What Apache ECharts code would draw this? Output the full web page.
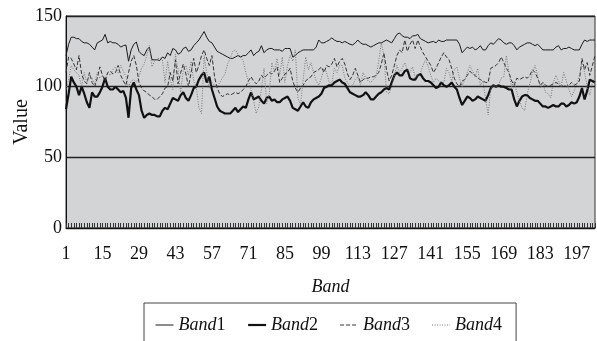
<!DOCTYPE html>
<html>
<head>
<meta charset="utf-8">
<script src="https://cdn.jsdelivr.net/npm/echarts@6/dist/echarts.min.js"></script>
<style>
  html, body { margin: 0; padding: 0; background: #fff; }
  #chart { width: 597px; height: 341px; }
</style>
</head>
<body>
<div id="chart"></div>
<script>
// band numbers 1..204
const bands = []
for (let b = 1; b <= 204; b++) bands.push(String(b))

const band1 = [
  122,130,135,135,134,134,132,131,131,130,128,126,131,132,133,137,131,132,131,131,
  130,128,129,129.5,118,126,130,131.6,125,123,122,126,128,119,119,119,118.5,121,120,124,
  122,127,126,123,124,127,128,125,126,129,131,133,136,139,135,132,131,128,125,124,
  123,122,121,120,120,121,122,121,122,122,124,126,122,124,125,129,124,126,127,127,
  126,126,126,125,127,127,127,121,122,124,125,126,126,126,126,126,128,133,131,131,
  132,133,134.5,133,132,132,131,132,131,130,129.5,131,133,131,130,130,129,128,129,130,
  131,131,132,133,132,131,134,137,138,136,135,135,134,136,136,137,134,133,132,131,
  131.6,132,131,133,132,132,133,133,133,133,133,130,124,126,128,127,128,126,127,129,
  126,126,129,131,130,132,134,133,131,130,131,131,129,126,128,129,130,131,131,130,
  129,130,128,126,126,126,126,126,128,129,126,127,127,128,127,126,126,126,130,133,
  132,133,133,133
]

const band2 = [
  84,95,107,103,100,94,100,95,89,85,96,93,93,96,100,106,100,98,98,100,
  98,96,97,92,78,99,103,98,94,83,78,80,81,80,80,79,79,83,85,84,
  88,92,91,90,94,96,92,90,94,99,100,105,108,110,103,107,98,92,86,83,
  82,81,81,81,83,85,82,84,86,85,91,96,91,92,93,90,88,92,93,90,
  91,89,89,91,92,93,90,85,84,83,86,89,86,85,89,91,92,93,95,99,
  100,101,101,103,104,105,103,102,99,96,95,94,93,93,94,96,94,91,91,93,
  95,96,98,99,98,103,108,110,108,108,111,112,106,105,105,108,109,106,104,104,
  103,101,99,100,103,101,100,101,103,100,98,92,87,90,93,92,90,91,93,92,
  91,90,94,99,101,100,101,100,100,99,98,98,91,86,90,93,94,94,92,91,
  90,90,88,86,86,85,86,87,86,86,88,88,86,87,89,88,89,93,99,91,
  97,105,104,103
]

const band3 = [
  110,121,120,116,112,122,109,104,102,110,103,100,106,114,108,104,110,111,109,110,
  115,108,104,101,110,118,122,115,103,99,97,96,94,93,91,91,93,95,99,100,
  110,104,119,102,110,116,109,100,110,120,110,115,122,126,120,115,122,107,99,95,
  93,94,95,94,95,96,95,96,98,100,104,107,104,102,104,108,106,108,110,109,
  111,114,103,106,109,110,113,104,99,96,99,101,104,106,107,110,111,112,114,110,
  115,114,116,120,114,118,120,116,109,105,108,113,108,103,105,106,106,107,107,108,
  110,116,124,112,104,108,115,122,126,124,133,125,130,133,127,133,128,124,121,118,
  115,110,113,117,121,124,121,119,113,106,102,100,104,105,108,111,109,108,106,105,
  104,103,103,113,114,115,117,121,117,113,110,104,101,106,105,106,107,106,108,112,
  110,106,101,103,101,100,101,102,103,102,100,101,100,101,103,101,102,104,120,112,
  117,108,115,122
]

const band4 = [
  98,105,115,112,110,108,100,110,103,108,106,102,110,106,108,106,110,108,112,114,
  110,115,111,107,100,104,105,103,107,113,116,122,129,114,118,120,120,119,103,118,
  105,98,123,112,96,112,115,108,118,104,100,85,81,122,110,99,103,101,100,103,
  106,109,116,120,125,126,123,121,118,110,104,98,90,81,86,98,113,88,95,117,
  110,120,108,121,103,115,122,118,126,92,87,105,121,112,117,110,104,101,106,113,
  110,103,102,113,110,115,115,106,103,100,101,105,107,101,110,106,104,103,105,107,
  118,131,122,96,95,100,108,115,110,113,117,112,110,114,106,108,110,115,119,114,
  108,103,106,104,103,103,113,110,104,112,114,106,100,105,110,115,111,107,113,101,
  104,92,80,99,101,100,101,106,107,122,110,100,104,96,90,85,83,95,102,110,
  115,108,99,103,96,95,92,103,108,104,100,110,104,98,93,97,101,108,117,110,
  100,94,103,103
]

const yTicks = [0, 50, 100, 150]

const serif = '"Liberation Serif", "DejaVu Serif", serif'

// legend text: italic "Band" + upright number
function bandLabel(name) {
  return '{i|Band}{n|' + name.replace('Band', '') + '}'
}

const chart = echarts.init(document.getElementById('chart'))

chart.setOption({
  animation: false,
  backgroundColor: '#fff',
  grid: {
    left: 66, right: 2, top: 16, bottom: 113,
    outerBoundsMode: 'none',
    show: true,
    backgroundColor: '#d3d4d6',
    borderColor: '#333',
    borderWidth: 1
  },
  legend: {
    left: 144,
    top: 303,
    padding: [13, 14, 13, 11],
    borderColor: '#444',
    borderWidth: 1,
    itemWidth: 18,
    itemHeight: 10,
    itemGap: 21.5,
    itemStyle: { opacity: 0 },   // only the line sample, no symbol
    formatter: bandLabel,
    textStyle: {
      color: '#111',
      rich: {
        i: { fontFamily: serif, fontStyle: 'italic', fontSize: 18, color: '#111' },
        n: { fontFamily: serif, fontSize: 18, color: '#111' }
      }
    },
    data: [
      { name: 'Band1', lineStyle: { width: 1 } },
      { name: 'Band2', lineStyle: { width: 2.2 } },
      { name: 'Band3', lineStyle: { width: 1 } },
      { name: 'Band4', lineStyle: { width: 1 } }
    ]
  },
  xAxis: {
    type: 'category',
    data: bands,
    boundaryGap: false,
    name: 'Band',
    nameLocation: 'middle',
    nameGap: 50,
    nameMoveOverlap: false,
    nameTextStyle: { fontFamily: serif, fontStyle: 'italic', fontSize: 18, color: '#111' },
    axisLine: { lineStyle: { color: '#111', width: 1 } },
    axisTick: { interval: 0, inside: true, length: 5, lineStyle: { color: '#333' } },
    axisLabel: { interval: 13, margin: 17, fontFamily: serif, fontSize: 18, color: '#111' },
    splitLine: { show: false }
  },
  yAxis: {
    type: 'value',
    min: yTicks[0],
    max: yTicks[yTicks.length - 1],
    interval: 50,
    name: 'Value',
    nameLocation: 'middle',
    nameGap: 34,
    nameMoveOverlap: false,
    nameTextStyle: { fontFamily: serif, fontSize: 20, color: '#111' },
    axisLine: { show: true, lineStyle: { color: '#111', width: 1 } },
    axisTick: { show: false },
    axisLabel: { margin: 4, fontFamily: serif, fontSize: 18, color: '#111' },
    splitLine: { lineStyle: { color: '#222', width: 1.3 } }
  },
  series: [
    {
      name: 'Band1', type: 'line', data: band1, symbol: 'none',
      itemStyle: { color: '#1a1a1a' },
      lineStyle: { color: '#1a1a1a', width: 1 }
    },
    {
      name: 'Band2', type: 'line', data: band2, symbol: 'none',
      itemStyle: { color: '#111' },
      lineStyle: { color: '#111', width: 2.2 }
    },
    {
      name: 'Band3', type: 'line', data: band3, symbol: 'none',
      itemStyle: { color: '#333' },
      lineStyle: { color: '#333', width: 1, type: [4, 2] }
    },
    {
      name: 'Band4', type: 'line', data: band4, symbol: 'none',
      itemStyle: { color: '#777' },
      lineStyle: { color: '#777', width: 1, type: [1, 1.5] }
    }
  ]
})
</script>
</body>
</html>
